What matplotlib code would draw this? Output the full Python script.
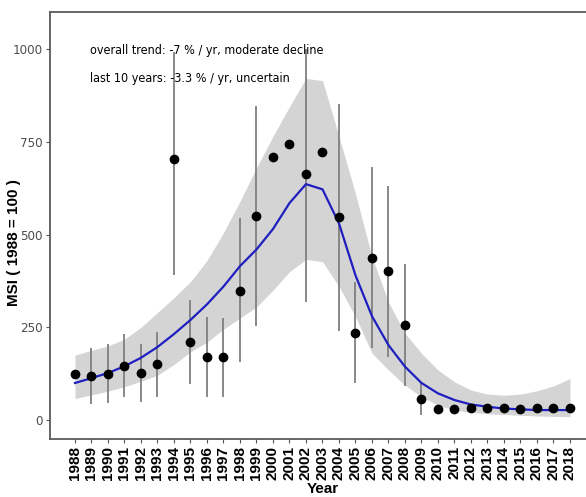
import matplotlib
matplotlib.use("Agg")
import matplotlib.pyplot as plt
from matplotlib import font_manager
from matplotlib.font_manager import FontProperties

years = list(range(1988, 2019))

msi = [124, 118, 123, 146, 128, 150, 704, 210, 171, 169, 349, 550, 710, 744,
       663, 723, 548, 235, 438, 402, 255, 57, 31, 30, 32, 32, 33, 30, 32, 32, 33]

# error bars (None = not shown)
err_low = [None, 43, 45, 63, 49, 63, 391, 97, 63, 63, 157, 253, None, None,
           317, None, 241, 99, 193, 171, 92, 15, None, None, None, None, None,
           None, None, None, None]
err_high = [None, 193, 204, 231, 204, 238, 993, 323, 278, 274, 544, 846, None, None,
            1000, None, 853, 373, 683, 631, 420, 103, None, None, None, None, None,
            None, None, None, None]

trend = [100, 113, 127, 145, 168, 197, 232, 270, 312, 360, 415, 460, 515, 585,
         636, 622, 530, 390, 280, 202, 144, 100, 72, 54, 42, 36, 31, 29, 27, 27, 27]
trend_low = [58, 68, 78, 90, 105, 121, 150, 184, 210, 245, 275, 305, 350, 400,
             433, 427, 360, 279, 180, 135, 94, 63, 40, 27, 21, 17, 15, 13, 11, 10, 9]
trend_high = [175, 188, 200, 218, 250, 290, 330, 373, 430, 505, 590, 680, 765, 845,
              921, 915, 765, 610, 440, 318, 234, 180, 135, 103, 81, 70, 67, 70, 79, 92, 112]

yticks = [0, 250, 500, 750, 1000]
note1 = "overall trend: -7 % / yr, moderate decline"
note2 = "last 10 years: -3.3 % / yr, uncertain"


def find_font(keys):
    paths = font_manager.findSystemFonts()
    for k in keys:
        for p in paths:
            if k.lower() in p.lower().replace("-", "").replace("_", ""):
                return p
    return None


narrow_path = find_font(["LiberationSansNarrowRegular", "LiberationSansNarrow.ttf",
                         "ArialNarrow", "DejaVuSansCondensed.ttf"])
if narrow_path:
    narrow_fp = lambda size: FontProperties(fname=narrow_path, size=size)
else:
    narrow_fp = lambda size: FontProperties(family="Liberation Sans", size=size * 0.9)

W, H = 586, 497
fig = plt.figure(figsize=(W / 100, H / 100), dpi=100)
ax = fig.add_axes([50 / W, 58 / H, 540 / W, 427 / H])

ax.fill_between(years, trend_low, trend_high, color="#d4d4d4", linewidth=0, zorder=1)
for x, lo, hi in zip(years, err_low, err_high):
    if lo is not None:
        ax.vlines(x, lo, hi, color="#7f7f7f", linewidth=1.3, zorder=2)
ax.plot(years, trend, color="#1f1fc0", linewidth=1.6, zorder=3)
ax.plot(years, msi, "o", color="black", markersize=6, zorder=4)

ax.text(1988.9, 997, note1, fontproperties=narrow_fp(9),
        ha="left", va="center", zorder=5)
ax.text(1988.9, 922, note2, fontproperties=narrow_fp(9),
        ha="left", va="center", zorder=5)

ax.set_xlim(1986.485, 1986.485 + 540 / 16.5)
ax.set_ylim(-51, 1100)
ax.set_xticks(years)
ax.set_xticklabels([str(y) for y in years], rotation=90, fontsize=11,
                   fontweight="bold", family="Liberation Sans", color="black")
ax.set_yticks(yticks)
ax.set_yticklabels([str(v) for v in yticks], fontproperties=narrow_fp(9.5), color="#4d4d4d")
ax.tick_params(axis="both", length=3, width=0.8, color="#555555", pad=2)

for s in ["left", "bottom", "top"]:
    ax.spines[s].set_color("#5a5a5a")
    ax.spines[s].set_linewidth(1.3)
ax.spines["right"].set_visible(False)

ax.set_xlabel("Year", fontsize=11, fontweight="bold", family="Liberation Sans")
ax.xaxis.set_label_coords(0.505, -0.1)
ax.xaxis.label.set_va("top")
ax.set_ylabel("MSI ( 1988 = 100 )", fontsize=11, fontweight="bold", family="Liberation Sans")
ax.yaxis.set_label_coords(-0.066, 0.461)
ax.yaxis.label.set_va("center")

fig.savefig("out.png", dpi=100)
